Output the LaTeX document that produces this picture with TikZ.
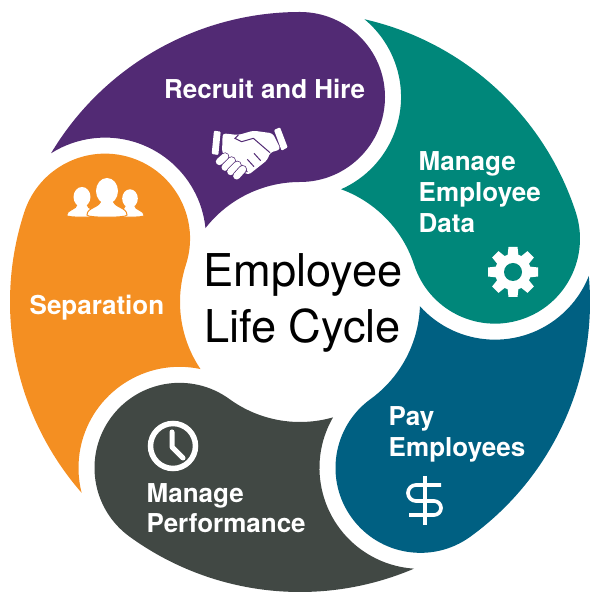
\documentclass[tikz,border=0pt]{standalone}
\usepackage{fontspec}
\setmainfont{TeX Gyre Heros}
\usetikzlibrary{positioning}
\definecolor{RecruitColor}{RGB}{82, 42, 116}
\definecolor{DataColor}{RGB}{0, 135, 122}
\definecolor{PayColor}{RGB}{0, 96, 130}
\definecolor{PerformColor}{RGB}{65, 72, 68}
\definecolor{SeparateColor}{RGB}{244, 143, 34}
% one blade of the wheel, #1 rotation #2 color
\def\drawPetal#1#2{
  \fill[#2,rotate=#1] (149.16:290) arc[radius=290,start angle=149.16,delta angle=-59.16] arc[radius=85,start angle=90,delta angle=-180] arc[radius=120,start angle=90,delta angle=51.97] arc[radius=101,start angle=6,delta angle=116.3] -- cycle;
}
% person: #1 where #2 scale
\def\drawPerson#1#2{
  \begin{scope}[shift={(#1)},scale=#2]
  \filldraw[white,draw=SeparateColor,line width=1pt] (-20,2) .. controls (-20,10) and (-7,9) .. (-6,17) -- (6,17) .. controls (7,9) and (20,10) .. (20,2) .. controls (20,-1) and (-20,-1) .. (-20,2) -- cycle;
  \fill[white] (0,26) ellipse (11 and 13);
  \end{scope}
}
\begin{document}
\begin{tikzpicture}[x=1pt,y=1pt,
  label/.style={white,inner sep=0,anchor=base west,align=left,font=\fontsize{26}{31}\selectfont\bfseries},
  title/.style={black,inner sep=0,anchor=base west,font=\fontsize{45.2}{56}\selectfont}]
\useasboundingbox (0,0) rectangle (601,604);

% the wheel
\begin{scope}[shift={(300,302)}]
\drawPetal{0}{RecruitColor}
\drawPetal{-72}{DataColor}
\drawPetal{-144}{PayColor}
\drawPetal{-216}{PerformColor}
\drawPetal{-288}{SeparateColor}
\end{scope}

% middle text
\node[title] (titleTop) at (203,317) {Employee};
\node[title] (titleBot) at (204,261) {Life Cycle};

% labels
\node[label] (recruit) at (164,505) {Recruit and Hire};
\node[label] (data) at (418.5,433) {Manage};
\node[label] (data2) at (418.5,402) {Employee};
\node[label] (data3) at (418.5,371) {Data};
\node[label] (separate) at (29.5,289) {Separation};
\node[label] (perform) at (146.5,101) {Manage};
\node[label] (perform2) at (146.5,71) {Performance};
\node[label] (pay) at (388.5,178) {Pay};
\node[label] (pay2) at (388.5,147) {Employees};

% gear
\begin{scope}[shift={(513,332)}]
\fill[white] (0,0) circle (18);
\foreach \a in {0,45,...,315}{
  \fill[white,rotate=\a] (-5.5,16) -- (-4.5,25) -- (4.5,25) -- (5.5,16) -- cycle;
}
\fill[DataColor] (0,0) circle (9);
\end{scope}

% clock
\draw[white,line width=5.5pt] (173,158) circle (22.5);
\draw[white,line width=5pt,line cap=round,line join=round] (172,172) -- (172,157) -- (183,146);

% dollar
\draw[white,line width=3.7pt] (441,119) -- (416,119) arc[radius=8,start angle=90,delta angle=180] -- (434,103) arc[radius=7,start angle=90,delta angle=-180] -- (409,89);
\draw[white,line width=3.7pt] (425,128) -- (425,79);

% people
\drawPerson{82,387}{0.77}
\drawPerson{130,387}{0.71}
\drawPerson{107,387}{1}

% handshake, coordinates of a 3x grid
\begin{scope}[shift={(190,494)},xscale=1/3,yscale=-1/3]
\fill[white,rounded corners=1pt] (72,62) -- (92,65) -- (85,135) -- (65,132) -- cycle;
\fill[white,rounded corners=1pt] (252,60) -- (270,52) -- (293,112) -- (275,122) -- cycle;
\fill[white,rounded corners=3pt] (98,70) -- (145,75) -- (190,62) -- (248,70) -- (272,118) -- (240,128) -- (232,150) -- (175,195) -- (150,180) -- (96,128) -- cycle;
\draw[RecruitColor,line width=1pt] (240,128) -- (190,85) -- (155,95) -- (135,85) -- (145,75);
\draw[RecruitColor,line width=1pt] (212,152) -- (192,130) (192,170) -- (172,148) (172,186) -- (155,165);
\foreach \xa/\ya/\xb/\yb in {88/155/105/140,105/172/125/152,122/185/142/165,140/198/158/178}{
  \draw[RecruitColor,line width=8.5pt,line cap=round] (\xa,\ya) -- (\xb,\yb);
  \draw[white,line width=7pt,line cap=round] (\xa,\ya) -- (\xb,\yb);
}
\end{scope}
\end{tikzpicture}
\end{document}
